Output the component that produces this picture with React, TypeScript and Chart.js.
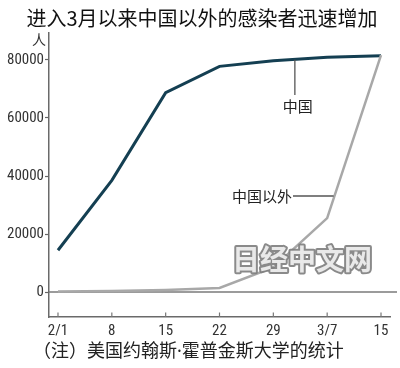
import React, { useEffect, useRef } from "react";
import { Chart, registerables } from "chart.js";

Chart.register(...registerables);

const tickLabels = ["2/1", "8", "15", "22", "29", "3/7", "15"];
const chinaCases = [14400, 38500, 68700, 77800, 79700, 80900, 81500];
const outsideCases = [200, 350, 700, 1400, 8500, 25500, 81700];
const yTicks = [0, 20000, 40000, 60000, 80000];

const titleText = "进入3月以来中国以外的感染者迅速增加";
const unitText = "人";
const noteText = "（注）美国约翰斯·霍普金斯大学的统计";
const chinaLabel = "中国";
const outsideLabel = "中国以外";
const watermarkText = "日经中文网";

const CJK = '"Noto Sans CJK SC", "Noto Sans", sans-serif';
const NOTE = '"Noto Sans", "Noto Sans CJK SC", sans-serif';
const NUM = '"Liberation Sans Narrow", "Roboto Condensed", "Noto Sans", sans-serif';

export default function App() {
  const ref = useRef<HTMLCanvasElement | null>(null);

  useEffect(() => {
    if (!ref.current) return;

    const decor = {
      id: "decor",
      beforeDraw(chart: any) {
        const ctx = chart.ctx;
        ctx.save();
        ctx.fillStyle = "#ffffff";
        ctx.fillRect(0, 0, chart.width, chart.height);
        ctx.restore();
      },
      beforeDatasetsDraw(chart: any) {
        const ctx = chart.ctx;
        const y = chart.scales.y;
        const x = chart.scales.x;
        const ca = chart.chartArea;
        ctx.save();
        // zero line
        const y0 = y.getPixelForValue(0);
        ctx.strokeStyle = "#7a7a7a";
        ctx.lineWidth = 1.5;
        ctx.beginPath();
        ctx.moveTo(ca.left, y0);
        ctx.lineTo(ca.right + 7, y0);
        ctx.stroke();
        // inward x ticks
        ctx.strokeStyle = "#777";
        ctx.lineWidth = 1.2;
        tickLabels.forEach((_, i) => {
          const px = x.getPixelForValue(i);
          ctx.beginPath();
          ctx.moveTo(px, ca.bottom);
          ctx.lineTo(px, ca.bottom - 4.5);
          ctx.stroke();
        });
        ctx.restore();
      },
      afterDraw(chart: any) {
        const ctx = chart.ctx;
        const x = chart.scales.x;
        const y = chart.scales.y;
        ctx.save();
        ctx.textBaseline = "middle";
        // title
        ctx.fillStyle = "#111";
        ctx.font = "20px " + CJK;
        ctx.textAlign = "center";
        ctx.fillText(titleText, 202, 18);
        // unit
        ctx.font = "14px " + CJK;
        ctx.fillStyle = "#333";
        ctx.fillText(unitText, 39, 40);
        // footnote
        ctx.font = "18px " + NOTE;
        ctx.fillStyle = "#222";
        ctx.textAlign = "left";
        ctx.fillText(noteText, 33, 352);

        // China label with leader
        const cx = x.getPixelForValue(4.4);
        const cy = y.getPixelForValue(80100);
        ctx.strokeStyle = "#555";
        ctx.lineWidth = 1.3;
        ctx.beginPath();
        ctx.moveTo(cx, cy);
        ctx.lineTo(cx, 95);
        ctx.stroke();
        ctx.font = "15px " + CJK;
        ctx.fillStyle = "#222";
        ctx.textAlign = "center";
        ctx.fillText(chinaLabel, cx + 3, 106);

        // Outside label with leader
        const oy = 196;
        const ox = x.getPixelForValue(5.12);
        ctx.beginPath();
        ctx.moveTo(293, oy);
        ctx.lineTo(ox, oy);
        ctx.stroke();
        ctx.textAlign = "right";
        ctx.fillText(outsideLabel, 292, oy);

        // watermark
        ctx.font = "bold 28px " + CJK;
        ctx.textAlign = "left";
        ctx.lineJoin = "round";
        ctx.strokeStyle = "rgba(125,125,125,0.9)";
        ctx.lineWidth = 4;
        ctx.strokeText(watermarkText, 232, 259);
        ctx.fillStyle = "rgba(236,236,236,0.97)";
        ctx.fillText(watermarkText, 232, 259);
        ctx.restore();
      },
    };

    const chart = new Chart(ref.current, {
      type: "line",
      data: {
        datasets: [
          {
            label: outsideLabel,
            data: outsideCases.map((v, i) => ({ x: i, y: v })),
            borderColor: "#a8a8a8",
            borderWidth: 2.5,
            pointRadius: 0,
            tension: 0,
            clip: false as any,
          },
          {
            label: chinaLabel,
            data: chinaCases.map((v, i) => ({ x: i, y: v })),
            borderColor: "#143f52",
            borderWidth: 3,
            pointRadius: 0,
            tension: 0,
            clip: false as any,
          },
        ],
      },
      options: {
        responsive: false,
        animation: false,
        layout: { padding: { top: 33, right: 10, left: 0, bottom: 0 } },
        plugins: {
          legend: { display: false },
          tooltip: { enabled: false },
          title: { display: false },
        },
        scales: {
          x: {
            type: "linear",
            min: -0.167,
            max: 6.167,
            afterBuildTicks: (s: any) => {
              s.ticks = tickLabels.map((_, i) => ({ value: i }));
            },
            afterFit: (s: any) => {
              s.height = 51;
            },
            ticks: {
              callback: (v: any) => tickLabels[v as number] ?? "",
              font: { family: NUM, size: 15 },
              color: "#333",
              padding: 5,
              maxRotation: 0,
              autoSkip: false,
            },
            grid: { drawOnChartArea: false, drawTicks: false },
            border: { display: true, color: "#6a6a6a", width: 1.5 },
          },
          y: {
            type: "linear",
            min: -8600,
            max: 89300,
            afterBuildTicks: (s: any) => {
              s.ticks = yTicks.map((v) => ({ value: v }));
            },
            afterFit: (s: any) => {
              s.width = 49;
            },
            ticks: {
              callback: (v: any) => String(v),
              font: { family: NUM, size: 15 },
              color: "#333",
              padding: 1,
            },
            grid: {
              drawOnChartArea: false,
              drawTicks: true,
              tickLength: 4,
              tickColor: "#666",
              tickWidth: 1.2,
            },
            border: { display: true, color: "#6a6a6a", width: 1.5 },
          },
        },
      },
      plugins: [decor],
    });

    return () => chart.destroy();
  }, []);

  return (
    <div style={{ position: "absolute", left: 0, top: 0, width: 400, height: 368, background: "#fff" }}>
      <canvas ref={ref} width={400} height={368} style={{ width: 400, height: 368, display: "block" }} />
    </div>
  );
}
